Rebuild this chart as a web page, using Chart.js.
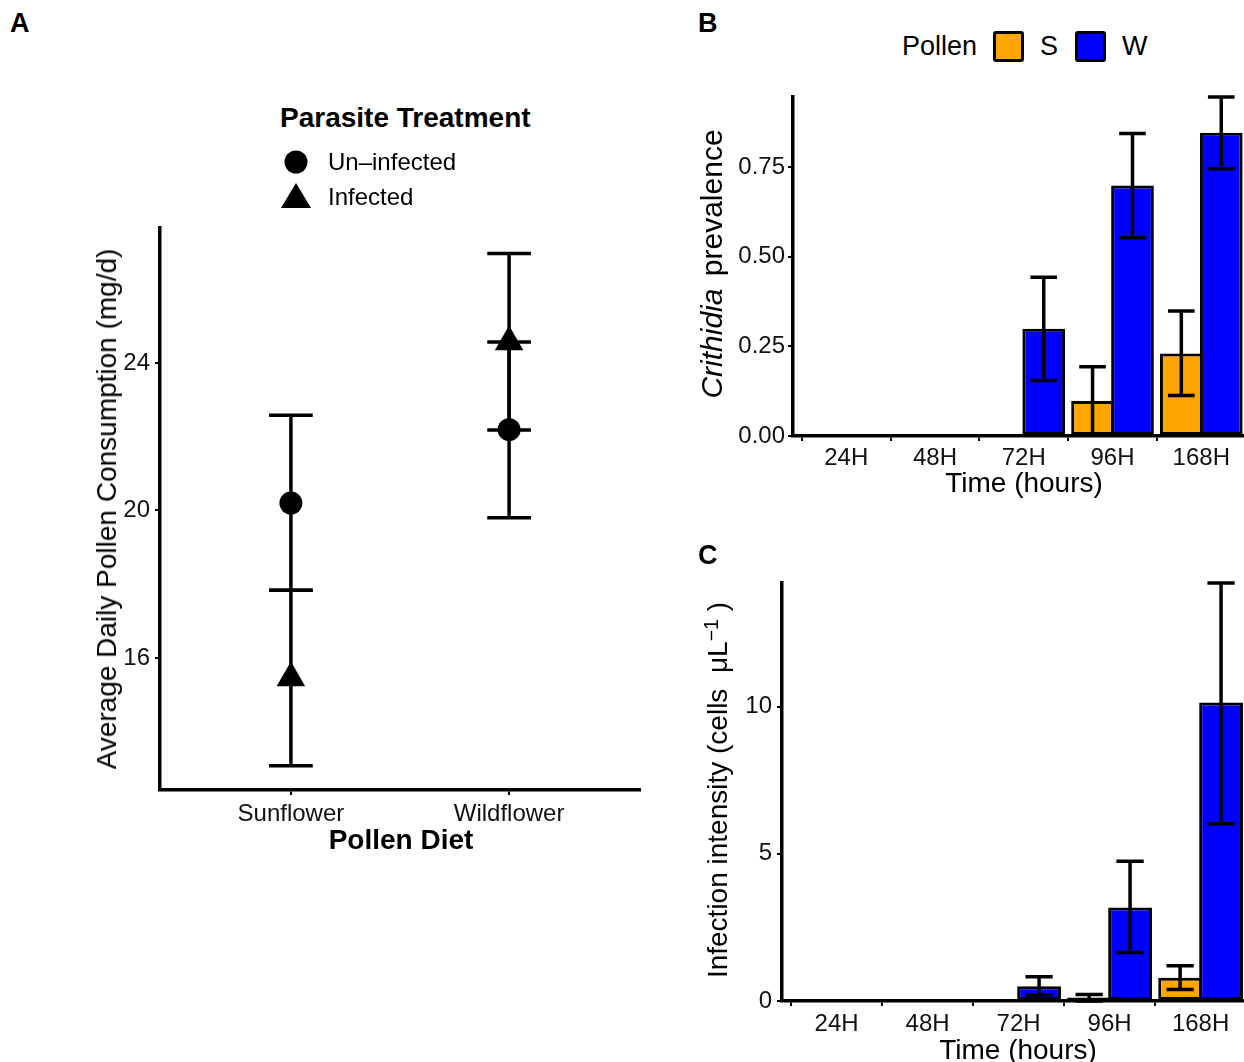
<!DOCTYPE html>
<html><head><meta charset="utf-8">
<script src="https://cdn.jsdelivr.net/npm/chart.js@4.4.1/dist/chart.umd.min.js"></script>
<style>
html,body{margin:0;padding:0;background:#fff;overflow:hidden;width:1244px;height:1062px;}
body{position:relative;font-family:"Liberation Sans",Arial,Helvetica,sans-serif;color:#000;}
canvas{position:absolute;}
.t{position:absolute;white-space:nowrap;line-height:1;transform:translate(-50%,-50%);}
.r{transform:translate(-50%,-50%) rotate(-90deg);}
.l{position:absolute;white-space:nowrap;line-height:1;}
.box{position:absolute;box-sizing:border-box;border:3px solid #000;border-radius:3px;width:31px;height:31px;}
</style></head><body>
<canvas id="ca" style="left:0;top:200px;width:660px;height:650px" width="660" height="650"></canvas>
<canvas id="cb" style="left:690px;top:80px;width:554px;height:440px" width="554" height="440"></canvas>
<canvas id="cc" style="left:690px;top:560px;width:554px;height:502px" width="554" height="502"></canvas>

<div class="l" style="left:10px;top:9.8px;font-size:27px;font-weight:bold">A</div>
<div class="l" style="left:698px;top:9.8px;font-size:27px;font-weight:bold">B</div>
<div class="l" style="left:698px;top:541.8px;font-size:27px;font-weight:bold">C</div>

<div class="l" style="left:280px;top:104.3px;font-size:28px;font-weight:bold">Parasite Treatment</div>
<svg style="position:absolute;left:280px;top:145px" width="34" height="70">
  <circle cx="16" cy="17" r="11.5" fill="#000"/>
  <polygon points="16,38 1,63 31,63" fill="#000"/>
</svg>
<div class="l" style="left:328px;top:150.2px;font-size:24px">Un–infected</div>
<div class="l" style="left:328px;top:185.2px;font-size:24px">Infected</div>

<div class="l" style="left:902px;top:32.8px;font-size:27px">Pollen</div>
<div class="box" style="left:993px;top:31px;background:#FFA500"></div>
<div class="l" style="left:1040px;top:32.8px;font-size:27px">S</div>
<div class="box" style="left:1075px;top:31px;background:#0000FF"></div>
<div class="l" style="left:1122px;top:32.8px;font-size:27px">W</div>

<div class="t r" style="left:107px;top:509px;font-size:28px">Average Daily Pollen Consumption (mg/d)</div>
<div class="t" style="left:401px;top:840px;font-size:28px;font-weight:bold">Pollen Diet</div>
<div class="t r" style="left:712px;top:264px;font-size:30px;word-spacing:4px"><i>Crithidia</i> prevalence</div>
<div class="t" style="left:1024px;top:483px;font-size:28px">Time (hours)</div>
<div class="t r" style="left:718px;top:790px;font-size:28px">Infection intensity (cells&nbsp; μL<span style="position:relative;top:-0.45em;font-size:0.7em">−1</span>&nbsp;)</div>
<div class="t" style="left:1018px;top:1050px;font-size:28px">Time (hours)</div>

<script>
// ---- Panel A data ----
const dietCats = ['Sunflower', 'Wildflower'];
const uninfMean = [20.2, 22.19];
const uninfLow  = [17.84, 19.8];
const uninfHigh = [22.58, 24.57];
const infMean   = [15.46, 24.57];
const infLow    = [13.08, 22.18];
const infHigh   = [17.84, 26.97];
const aTicks = [16, 20, 24];

// ---- Panel B data ----
const timeCats = ['24H', '48H', '72H', '96H', '168H'];
const prevS     = [0, 0, 0, 0.098, 0.23];
const prevSLow  = [0, 0, 0, 0.006, 0.113];
const prevSHigh = [0, 0, 0, 0.193, 0.349];
const prevW     = [0, 0, 0.299, 0.699, 0.846];
const prevWLow  = [0, 0, 0.155, 0.553, 0.746];
const prevWHigh = [0, 0, 0.443, 0.844, 0.946];
const bTicks = [0, 0.25, 0.5, 0.75];

// ---- Panel C data ----
const intS     = [0, 0, 0, 0.12, 0.79];
const intSLow  = [0, 0, 0, 0, 0.39];
const intSHigh = [0, 0, 0, 0.22, 1.2];
const intW     = [0, 0, 0.5, 3.18, 10.14];
const intWLow  = [0, 0, 0.2, 1.65, 6.02];
const intWHigh = [0, 0, 0.82, 4.75, 14.2];
const cTicks = [0, 5, 10];

const FONT = '"Liberation Sans", Arial, Helvetica, sans-serif';

const errorBars = {
  id: 'errorBars',
  afterDatasetsDraw(chart, args, opts) {
    const ctx = chart.ctx, xs = chart.scales.x, ys = chart.scales.y;
    const half = Math.abs(xs.getPixelForValue(1 + opts.capHalf) - xs.getPixelForValue(1));
    ctx.save();
    ctx.strokeStyle = '#000';
    ctx.lineWidth = opts.lineWidth;
    ctx.lineCap = 'butt';
    chart.data.datasets.forEach((ds, di) => {
      const meta = chart.getDatasetMeta(di);
      meta.data.forEach((el, i) => {
        const lo = ds.errLow[i], hi = ds.errHigh[i];
        if (!(hi > lo)) return;
        const x = el.x, y1 = ys.getPixelForValue(lo), y2 = ys.getPixelForValue(hi);
        ctx.beginPath();
        ctx.moveTo(x, y1); ctx.lineTo(x, y2);
        ctx.moveTo(x - half, y1); ctx.lineTo(x + half, y1);
        ctx.moveTo(x - half, y2); ctx.lineTo(x + half, y2);
        ctx.stroke();
      });
    });
    ctx.restore();
  }
};

function gridOpts() {
  return {display: true, drawOnChartArea: false, drawTicks: true, tickLength: 5, color: '#000', lineWidth: 2};
}
function yAxis(min, max, ticks, fmt, width, pad) {
  return {
    type: 'linear', min, max,
    afterBuildTicks: s => { s.ticks = ticks.map(v => ({value: v})); },
    afterFit: s => { s.width = width; s.paddingTop = 0; s.paddingBottom = 0; s.paddingLeft = 0; s.paddingRight = 0; },
    grid: gridOpts(),
    border: {display: true, color: '#000', width: 3.5},
    ticks: {color: '#111', font: {family: FONT, size: 24}, padding: pad, callback: fmt}
  };
}
function xAxis(labels, max, height, pad) {
  return {
    type: 'linear', min: 0.4, max: max, offset: false,
    afterBuildTicks: s => { s.ticks = labels.map((_, i) => ({value: i + 1})); },
    afterFit: s => { s.height = height; s.paddingLeft = 0; s.paddingRight = 0; s.paddingTop = 0; s.paddingBottom = 0; },
    grid: gridOpts(),
    border: {display: true, color: '#000', width: 3.5},
    ticks: {color: '#111', font: {family: FONT, size: 24}, padding: pad, maxRotation: 0, autoSkip: false,
            callback: v => labels[Math.round(v) - 1]}
  };
}
const common = {
  responsive: false, animation: false, devicePixelRatio: 1,
  plugins: {legend: {display: false}, tooltip: {enabled: false}}
};

// Panel A
new Chart(document.getElementById('ca'), {
  type: 'scatter',
  data: {
    datasets: [
      {label: 'Un–infected', data: dietCats.map((c, i) => ({x: i + 1, y: uninfMean[i]})),
       errLow: uninfLow, errHigh: uninfHigh,
       pointStyle: 'circle', pointRadius: 11.5, backgroundColor: '#000', borderColor: '#000', borderWidth: 0},
      {label: 'Infected', data: dietCats.map((c, i) => ({x: i + 1, y: infMean[i]})),
       errLow: infLow, errHigh: infHigh,
       pointStyle: 'triangle', pointRadius: 16.5, backgroundColor: '#000', borderColor: '#000', borderWidth: 0}
    ]
  },
  options: Object.assign({}, common, {
    layout: {padding: {top: 28, right: 20, left: 0, bottom: 0}},
    scales: {
      x: xAxis(dietCats, 2.6, 60, 5),
      y: yAxis(12.42, 27.66, aTicks, v => String(v), 160, 5)
    },
    plugins: Object.assign({}, common.plugins, {errorBars: {capHalf: 0.1, lineWidth: 3.5}})
  }),
  plugins: [errorBars]
});

function barChart(id, sVals, sLow, sHigh, wVals, wLow, wHigh, xMax, yMax, ticks, fmt, yWidth, xHeight, padTop, xPad, yPad) {
  return new Chart(document.getElementById(id), {
    type: 'bar',
    data: {
      datasets: [
        {label: 'S', data: timeCats.map((c, i) => ({x: i + 1, y: sVals[i]})), errLow: sLow, errHigh: sHigh,
         backgroundColor: '#FFA500', borderColor: '#000', borderWidth: 3, borderSkipped: false,
         categoryPercentage: 0.9, barPercentage: 1.07},
        {label: 'W', data: timeCats.map((c, i) => ({x: i + 1, y: wVals[i]})), errLow: wLow, errHigh: wHigh,
         backgroundColor: '#0000FF', borderColor: '#000', borderWidth: 3, borderSkipped: false,
         categoryPercentage: 0.9, barPercentage: 1.07}
      ]
    },
    options: Object.assign({}, common, {
      layout: {padding: {top: padTop, right: 1, left: 0, bottom: 0}},
      scales: {
        x: xAxis(timeCats, xMax, xHeight, xPad),
        y: yAxis(0, yMax, ticks, fmt, yWidth, yPad)
      },
      plugins: Object.assign({}, common.plugins, {errorBars: {capHalf: 0.15, lineWidth: 3.5}})
    }),
    plugins: [errorBars]
  });
}

barChart('cb', prevS, prevSLow, prevSHigh, prevW, prevWLow, prevWHigh, 5.47, 0.946, bTicks,
         v => Number(v).toFixed(2), 103, 84, 17, 3, 3);
barChart('cc', intS, intSLow, intSHigh, intW, intWLow, intWHigh, 5.466, 14.2, cTicks,
         v => String(v), 92, 61, 23, 4, 5);
</script>
</body></html>
